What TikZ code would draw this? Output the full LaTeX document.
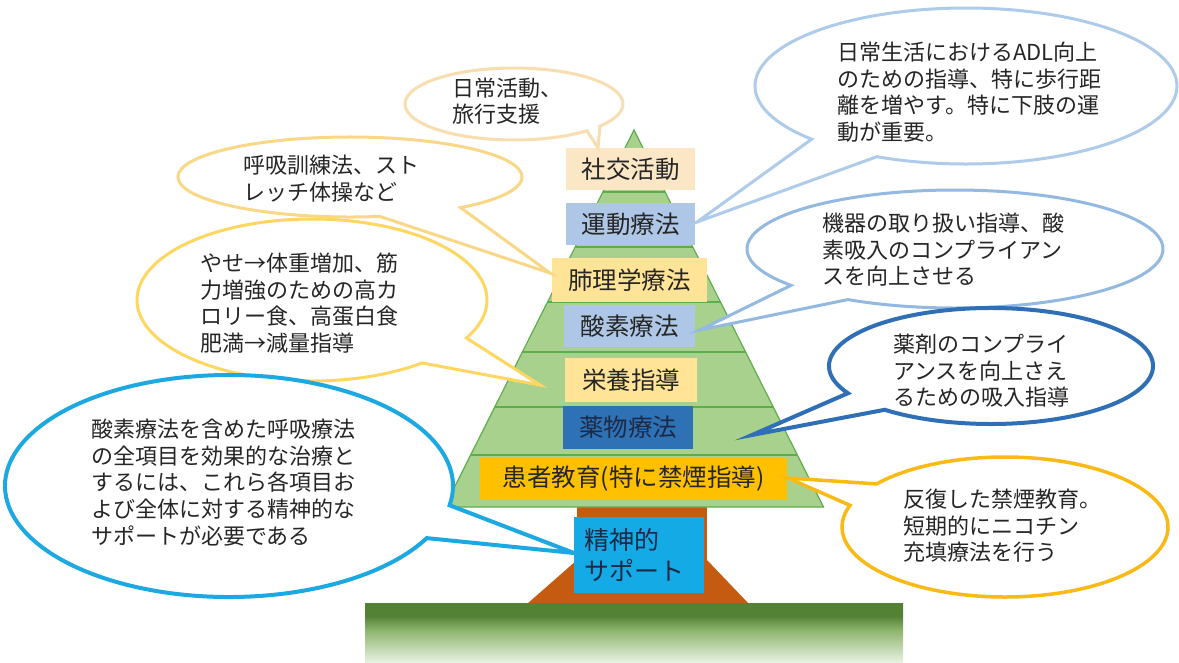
\documentclass[tikz,border=0pt]{standalone}
\usepackage{fontspec}
\setmainfont{Noto Sans CJK JP}
\usetikzlibrary{calc}
\definecolor{treefill}{HTML}{A9D18E}
\definecolor{treeline}{HTML}{5DAE4B}
\definecolor{trunkc}{HTML}{C55A11}
\definecolor{gdark}{HTML}{548235}
\definecolor{gmid}{HTML}{8DB56E}
\definecolor{glight}{HTML}{E8F2E0}
\definecolor{peach}{HTML}{FBE6C6}
\definecolor{lblue}{HTML}{AEC7E6}
\definecolor{lyellow}{HTML}{FFE497}
\definecolor{mblue}{HTML}{2E71B5}
\definecolor{kyellow}{HTML}{FFC000}
\definecolor{cyanbox}{HTML}{14AAE6}
\definecolor{txt}{HTML}{262626}
\definecolor{navytxt}{HTML}{1B2A47}
\definecolor{cA}{HTML}{F7DDAF}
\definecolor{cB}{HTML}{F8D886}
\definecolor{cC}{HTML}{FFD760}
\definecolor{cD}{HTML}{1CA8E0}
\definecolor{cE}{HTML}{AFCBEA}
\definecolor{cF}{HTML}{93B9E0}
\definecolor{cG}{HTML}{2F6FB5}
\definecolor{cH}{HTML}{F9BA16}
\pgfdeclareverticalshading{groundsh}{100bp}{color(0bp)=(glight); color(25bp)=(glight); color(52bp)=(gmid); color(64bp)=(gdark); color(75bp)=(gdark); color(100bp)=(gdark)}
% #1 style, #2 cx, #3 cy, #4 rx, #5 ry, #6 a1, #7 a2, #8 tip
\newcommand{\callout}[8]{%
  \draw[bubble,#1] (#2,#3) ++(#7:#4 and #5) arc[start angle=#7, end angle={#6+360}, x radius=#4, y radius=#5] -- (#8) -- cycle;}
\begin{document}
\begin{tikzpicture}[x=1pt,y=-1pt,
  box/.style={inner sep=0pt, minimum width=#1, minimum height=42pt, text=txt, font=\fontsize{24.5}{28}\selectfont},
  box/.default=129pt,
  bubble/.style={fill=white, line width=3pt, line join=miter},
  btext/.style={anchor=west, align=left, inner sep=0pt, text=txt, font=\fontsize{22}{26.6}\selectfont}]
\useasboundingbox (0,0) rectangle (1179,662);
\fill[white] (0,0) rectangle (1179,662);
% trunk
\fill[trunkc] (577,495) rectangle (707,604);
\fill[trunkc] (577,560) -- (707,560) -- (749,604) -- (527,604) -- cycle;
% ground
\shade[shading=groundsh] (365,603) rectangle (903,662);
% tree
\coordinate (apex) at (634,130);
\coordinate (bl) at (444.5,507);
\coordinate (br) at (823.5,507);
\filldraw[fill=treefill, draw=treeline, line width=1.2pt] (apex) -- (br) -- (bl) -- cycle;
\foreach \yy in {192,247,302,352,407,455}
  \draw[treeline, line width=1.5pt] ($(apex)!{(\yy-130)/377}!(bl)$) -- ($(apex)!{(\yy-130)/377}!(br)$);
% boxes
\node[box, fill=peach] (b1) at (630.5,169) {社交活動};
\node[box, fill=lblue] (b2) at (630.5,224) {運動療法};
\node[box=155pt, fill=lyellow, minimum height=44pt] (b3) at (629.5,280) {肺理学療法};
\node[box=131pt, fill=lblue] (b4) at (629.5,326) {酸素療法};
\node[box=132pt, fill=lyellow, minimum height=44pt] (b5) at (631,380) {栄養指導};
\node[box=130pt, fill=mblue, minimum height=43pt, text=navytxt] (b6) at (628,427.5) {薬物療法};
\node[box=307pt, fill=kyellow] (b7) at (633.5,479) {患者教育(特に禁煙指導)};
\node[fill=cyanbox, inner xsep=10pt, inner ysep=0pt, text width=110pt, minimum height=76pt, align=left, text=navytxt, font=\fontsize{25}{31}\selectfont] (b8) at (639,555) {精神的\\サポート};
% pointer tips
\coordinate (pA) at (598,148);
\coordinate (pB) at (550,273);
\coordinate (pC) at (540,385);
\coordinate (pD) at (574,553);
\coordinate (pE) at (697,222);
\coordinate (pF) at (700,330);
\coordinate (pG) at (752,435);
\coordinate (pH) at (788,478);
% callouts
\callout{draw=cA}{514}{104}{109}{36}{38}{48}{pA}
\callout{draw=cB}{350}{177}{172}{40}{50}{80}{pB}
\callout{draw=cC}{312}{300}{175}{81}{28}{51}{pC}
\callout{draw=cD, line width=4pt}{229}{486}{224}{111}{10}{28}{pD}
\callout{draw=cE}{966}{86}{211}{78}{115}{137}{pE}
\callout{draw=cF}{955}{249}{208}{59}{121}{142}{pF}
\callout{draw=cG, line width=4pt}{991}{366}{162}{58}{131}{152}{pG}
\callout{draw=cH, line width=3.5pt}{1005}{527}{163}{70}{198}{218}{pH}
% callout texts
\node[btext] (tA) at (452,101) {日常活動、\\旅行支援};
\node[btext] (tB) at (243,178.5) {呼吸訓練法、スト\\レッチ体操など};
\node[btext] (tC) at (200,303) {やせ→体重増加、筋\\力増強のための高カ\\ロリー食、高蛋白食\\肥満→減量指導};
\node[btext] (tD) at (91,482.5) {酸素療法を含めた呼吸療法\\の全項目を効果的な治療と\\するには、これら各項目お\\よび全体に対する精神的な\\サポートが必要である};
\node[btext] (tE) at (837,92) {日常生活におけるADL向上\\のための指導、特に歩行距\\離を増やす。特に下肢の運\\動が重要。};
\node[btext] (tF) at (822,250) {機器の取り扱い指導、酸\\素吸入のコンプライアン\\スを向上させる};
\node[btext] (tG) at (893,371) {薬剤のコンプライ\\アンスを向上さえ\\るための吸入指導};
\node[btext] (tH) at (903,526) {反復した禁煙教育。\\短期的にニコチン\\充填療法を行う};
\end{tikzpicture}
\end{document}
